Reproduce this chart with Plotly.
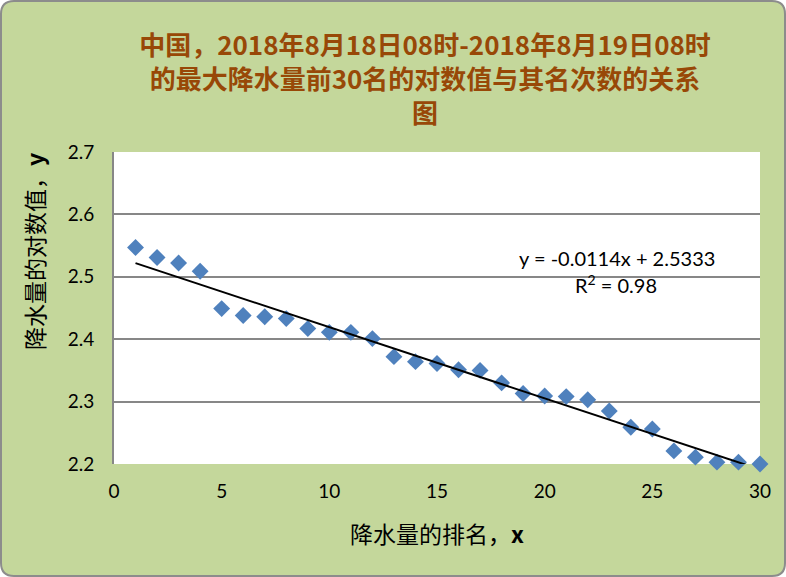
import plotly.graph_objects as go

# ---- data ----
rank = list(range(1, 31))
log_values = [2.547, 2.531, 2.522, 2.509, 2.449, 2.438, 2.436, 2.433, 2.417, 2.411,
              2.411, 2.401, 2.372, 2.364, 2.361, 2.351, 2.350, 2.330, 2.313, 2.309,
              2.308, 2.303, 2.285, 2.259, 2.256, 2.221, 2.211, 2.203, 2.203, 2.200]
slope = -0.0114
intercept = 2.5333
r_squared = 0.98
x_ticks = [0, 5, 10, 15, 20, 25, 30]
y_ticks = [2.2, 2.3, 2.4, 2.5, 2.6, 2.7]

title_text = ("中国，2018年8月18日08时-2018年8月19日08时<br>"
              "的最大降水量前30名的对数值与其名次数的关系<br>图")
x_title = "降水量的排名，<b>x</b>"
y_title = "降水量的对数值，<b>y</b>"
eq_text = "y = -0.0114x + 2.5333"
r2_text = "R<sup>2</sup> = 0.98"

W, H = 786, 577
ML, MR, MT, MB = 114, 26, 152, 113
PW, PH = W - ML - MR, H - MT - MB


def px(x):
    return (x - ML) / PW


def py(y):
    return (H - MB - y) / PH


trend_x = [rank[0], rank[-1]]
trend_y = [slope * v + intercept for v in trend_x]

fig = go.Figure()
fig.add_trace(go.Scatter(
    x=rank, y=log_values, mode="markers",
    marker=dict(symbol="diamond", size=13, color="#4F81BD", line=dict(width=0)),
    cliponaxis=False, showlegend=False, hoverinfo="x+y"))
fig.add_trace(go.Scatter(
    x=trend_x, y=trend_y, mode="lines",
    line=dict(color="black", width=2), showlegend=False, hoverinfo="skip"))

# rounded outer frame
x0, x1, y0, y1, r = 1, 785, 1, 576, 13
path = (f"M {px(x0 + r)},{py(y0)} L {px(x1 - r)},{py(y0)} "
        f"Q {px(x1)},{py(y0)} {px(x1)},{py(y0 + r)} "
        f"L {px(x1)},{py(y1 - r)} Q {px(x1)},{py(y1)} {px(x1 - r)},{py(y1)} "
        f"L {px(x0 + r)},{py(y1)} Q {px(x0)},{py(y1)} {px(x0)},{py(y1 - r)} "
        f"L {px(x0)},{py(y0 + r)} Q {px(x0)},{py(y0)} {px(x0 + r)},{py(y0)} Z")
shapes = [
    dict(type="path", xref="paper", yref="paper", path=path,
         fillcolor="#C4D79B", line=dict(color="#8C8C8C", width=2), layer="below"),
    dict(type="rect", xref="paper", yref="paper", x0=0, x1=1, y0=0, y1=1,
         fillcolor="white", line=dict(width=0), layer="below"),
]

annotations = [
    dict(text=y_title, xref="paper", yref="paper", x=px(34), y=py(252),
         textangle=-90, showarrow=False, xanchor="center", yanchor="middle",
         font=dict(family="Noto Sans CJK SC", size=23, color="black")),
    dict(text=x_title, xref="paper", yref="paper", x=px(437), y=py(533),
         showarrow=False, xanchor="center", yanchor="middle",
         font=dict(family="Noto Sans CJK SC", size=23, color="black")),
    dict(text=eq_text, xref="paper", yref="paper", x=px(617), y=py(258),
         showarrow=False, xanchor="center", yanchor="middle",
         font=dict(family="Lato", size=20, color="black")),
    dict(text=r2_text, xref="paper", yref="paper", x=px(616), y=py(284),
         showarrow=False, xanchor="center", yanchor="middle",
         font=dict(family="Lato", size=20, color="black")),
]

fig.update_layout(
    width=W, height=H,
    margin=dict(l=ML, r=MR, t=MT, b=MB),
    paper_bgcolor="white",
    plot_bgcolor="rgba(0,0,0,0)",
    title=dict(text=title_text, x=425 / W, xanchor="center",
               y=1 - 55 / H, yanchor="middle",
               font=dict(family="Noto Sans CJK SC", size=26, color="#984807",
                         weight="bold")),
    shapes=shapes,
    annotations=annotations,
    xaxis=dict(range=[0, 30], tickvals=x_ticks, ticktext=[str(v) for v in x_ticks],
               showgrid=False, zeroline=False, showline=False, ticks="",
               ticklabelstandoff=14,
               tickfont=dict(family="Lato", size=19, color="black")),
    yaxis=dict(range=[2.2, 2.7], tickvals=y_ticks, ticktext=[f"{v:.1f}" for v in y_ticks],
               showgrid=True, gridcolor="#878787", gridwidth=1.7, zeroline=False,
               showline=True, linecolor="#878787", linewidth=2, ticks="",
               ticklabelstandoff=14,
               tickfont=dict(family="Lato", size=19, color="black")),
)

fig.write_html("out.html")
